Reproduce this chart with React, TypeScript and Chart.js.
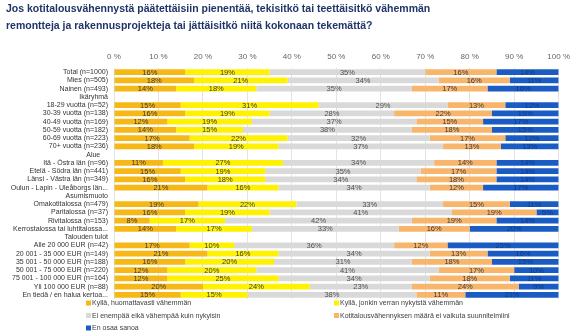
import React, { useEffect, useRef } from "react";
import { Chart, registerables } from "chart.js";

Chart.register(...registerables);

const titleLines = [
  "Jos kotitalousvähennystä päätettäisiin pienentää, tekisitkö tai teettäisitkö vähemmän",
  "remontteja ja rakennusprojekteja tai jättäisitkö niitä kokonaan tekemättä?",
];

const categories = [
  "Total (n=1000)",
  "Mies (n=505)",
  "Nainen (n=493)",
  "Ikäryhmä",
  "18-29 vuotta (n=52)",
  "30-39 vuotta (n=138)",
  "40-49 vuotta (n=169)",
  "50-59 vuotta (n=182)",
  "60-69 vuotta (n=223)",
  "70+ vuotta (n=236)",
  "Alue    ",
  "Itä - Östra län (n=96)",
  "Etelä - Södra län (n=441)",
  "Länsi - Västra län (n=349)",
  "Oulun - Lapin - Uleåborgs län...",
  "Asumismuoto",
  "Omakotitalossa (n=479)",
  "Paritalossa (n=37)",
  "Rivitalossa (n=153)",
  "Kerrostalossa tai luhtitalossa...",
  "Talouden tulot",
  "Alle 20 000 EUR (n=42)",
  "20 001 - 35 000 EUR (n=149)",
  "35 001 - 50 000 EUR (n=188)",
  "50 001 - 75 000 EUR (n=220)",
  "75 001 - 100 000 EUR (n=164)",
  "Yli 100 000 EUR (n=88)",
  "En tiedä / en halua kertoa...",
];

const seriesLabels = [
  "Kyllä, huomattavasti vähemmän",
  "Kyllä, jonkin verran nykyistä vähemmän",
  "Ei enempää eikä vähempää kuin nykyisin",
  "Kotitalousvähennyksen määrä ei vaikuta suunnitelmiini",
  "En osaa sanoa",
];

const seriesColors = ["#F6B816", "#FFF200", "#D9D9D9", "#F8B56C", "#1B5CC4"];
const labelColors = ["#3a3a3a", "#3a3a3a", "#505050", "#3a3a3a", "#0d3a8a"];

const much = [16, 18, 14, null, 15, 16, 12, 14, 17, 18, null, 11, 15, 16, 21, null, 19, 16, 8, 14, null, 17, 21, 16, 12, 12, 20, 15];
const some = [19, 21, 18, null, 31, 19, 19, 15, 22, 19, null, 27, 19, 18, 16, null, 22, 19, 17, 17, null, 10, 16, 20, 20, 25, 24, 15];
const same = [35, 34, 35, null, 29, 28, 37, 38, 32, 37, null, 34, 35, 34, 34, null, 33, 41, 42, 33, null, 36, 34, 31, 41, 34, 23, 38];
const noEffect = [16, 16, 17, null, 13, 22, 15, 18, 17, 13, null, 14, 17, 18, 12, null, 15, 19, 19, 16, null, 12, 13, 18, 17, 18, 24, 11];
const dontKnow = [14, 11, 16, null, 12, 15, 17, 15, 12, 13, null, 14, 14, 14, 17, null, 11, 5, 14, 20, null, 25, 16, 15, 10, 11, 9, 21];

const seriesValues = [much, some, same, noEffect, dontKnow];

const FONT = "'Liberation Sans', Arial, sans-serif";

const overlayPlugin = {
  id: "overlay",
  afterDatasetsDraw(chart: any) {
    const ctx = chart.ctx;
    ctx.save();
    ctx.font = `7.5px ${FONT}`;
    ctx.textAlign = "center";
    ctx.textBaseline = "middle";
    chart.data.datasets.forEach((ds: any, i: number) => {
      const meta = chart.getDatasetMeta(i);
      meta.data.forEach((el: any, j: number) => {
        const v = ds.data[j];
        if (v == null) return;
        const cx = (el.x + el.base) / 2;
        ctx.fillStyle = labelColors[i];
        ctx.fillText(v + "%", cx, el.y + 0.5);
      });
    });
    ctx.restore();
  },
  afterDraw(chart: any) {
    const ctx = chart.ctx;
    ctx.save();
    // title
    ctx.font = `bold 10.5px ${FONT}`;
    ctx.fillStyle = "#1F3468";
    ctx.textAlign = "left";
    ctx.textBaseline = "middle";
    ctx.fillText(titleLines[0], 6, 9);
    ctx.fillText(titleLines[1], 6, 26);
    // legend
    const pos = [
      [86, 303],
      [334, 303],
      [86, 315.5],
      [334, 315.5],
      [86, 328],
    ];
    ctx.font = `7px ${FONT}`;
    seriesLabels.forEach((lab, i) => {
      const [x, y] = pos[i];
      ctx.fillStyle = seriesColors[i];
      ctx.fillRect(x, y - 2.5, 5, 5);
      ctx.fillStyle = "#404040";
      ctx.fillText(lab, x + 6, y + 0.5);
    });
    ctx.restore();
  },
};

export default function App() {
  const ref = useRef<HTMLCanvasElement | null>(null);
  useEffect(() => {
    document.body.style.margin = "0";
    const canvas = ref.current!;
    const chart = new Chart(canvas, {
      type: "bar",
      data: {
        labels: categories,
        datasets: seriesValues.map((vals, i) => ({
          label: seriesLabels[i],
          data: vals,
          backgroundColor: seriesColors[i],
          borderWidth: 0,
          barPercentage: 0.72,
          categoryPercentage: 1,
        })),
      },
      options: {
        indexAxis: "y",
        responsive: false,
        animation: false,
        layout: { padding: { top: 54, right: 17, bottom: 37, left: 0 } },
        plugins: {
          legend: { display: false },
          title: { display: false },
          tooltip: { enabled: false },
        },
        scales: {
          x: {
            stacked: true,
            position: "top",
            min: 0,
            max: 100,
            ticks: {
              stepSize: 10,
              callback: (v: any) => v + " %",
              font: { size: 8, family: FONT },
              color: "#666666",
              padding: 6,
            },
            grid: { color: "#E3E3E3", drawTicks: false },
            border: { display: false },
            afterFit: (s: any) => {
              s.height = 14;
            },
          },
          y: {
            stacked: true,
            ticks: {
              autoSkip: false,
              font: { size: 7, family: FONT },
              color: "#333333",
              padding: 6,
            },
            grid: { display: false, drawTicks: false },
            border: { display: false },
            afterFit: (s: any) => {
              s.width = 114;
            },
          },
        },
      },
      plugins: [overlayPlugin],
    } as any);
    return () => chart.destroy();
  }, []);
  return <canvas ref={ref} width={576} height={336} style={{ display: "block" }} />;
}
